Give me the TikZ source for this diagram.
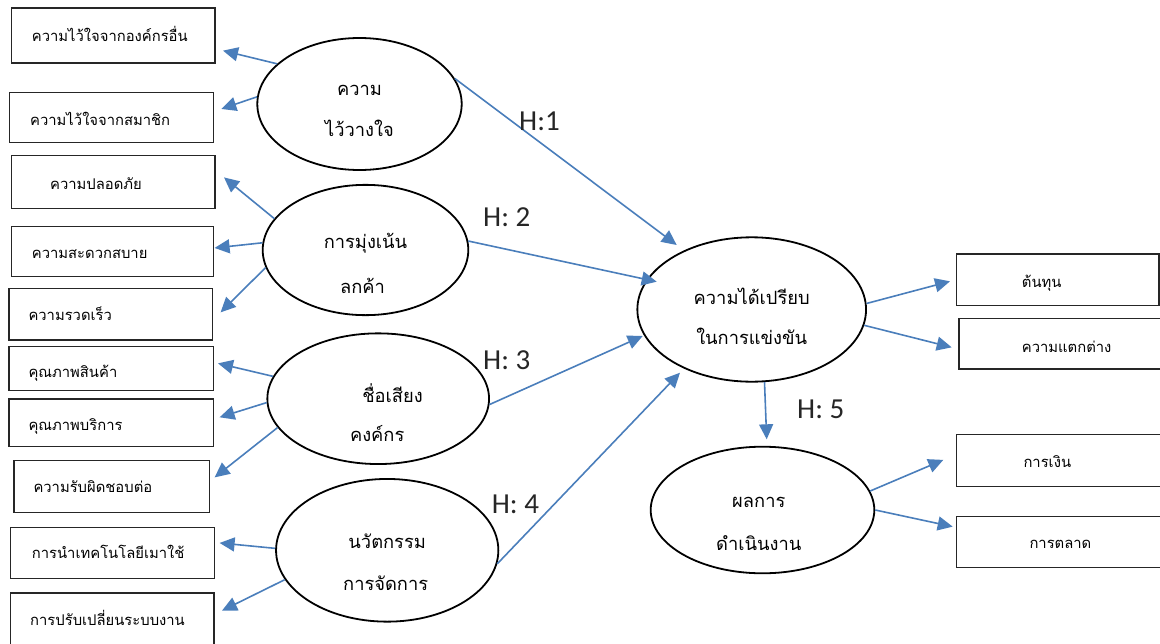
\documentclass[tikz,border=0pt]{standalone}
\usepackage{fontspec}
\newfontfamily\thaifont[Script=Thai]{Loma}
\newfontfamily\latinfont{Carlito}
\usetikzlibrary{shapes.geometric,arrows.meta,calc}
\definecolor{linkblue}{HTML}{4A7EBB}
\definecolor{boxedge}{HTML}{262626}
\begin{document}
\begin{tikzpicture}[x=1pt,y=-1pt,
  leftbox/.style={draw=boxedge, line width=1.3pt, anchor=north west, inner sep=0pt},
  boxtext/.style={font=\thaifont\fontsize{14.8}{17}\selectfont, anchor=base west, inner sep=0pt},
  ellipsenode/.style={ellipse, draw=black, line width=1.8pt, inner sep=0pt},
  elltext/.style={font=\thaifont\fontsize{18.3}{21}\selectfont, anchor=base, inner sep=0pt},
  link/.style={draw=linkblue, line width=1.6pt, -{Triangle[length=15pt,width=14pt]}},
  hlabel/.style={font=\latinfont\fontsize{29}{34}\selectfont, anchor=base west, inner sep=0pt, text=black!85}
]
\useasboundingbox (0,0) rectangle (1160,643);
\clip (0,0) rectangle (1160,643);

% indicator boxes, left column
\node[leftbox, minimum width=203.3pt, minimum height=55pt,
  label={[boxtext, xshift=20.7pt, yshift=-5.9pt]west:ความไว้ใจจากองค์กรอื่น}] (b1) at (11,7.3) {};
\node[leftbox, minimum width=203.7pt, minimum height=50pt,
  label={[boxtext, xshift=21pt, yshift=-8.3pt]west:ความไว้ใจจากสมาชิก}] (b2) at (9,91.7) {};
\node[leftbox, minimum width=203.3pt, minimum height=52.7pt,
  label={[boxtext, xshift=39pt, yshift=-7pt]west:ความปลอดภัย}] (b3) at (11,155) {};
\node[leftbox, minimum width=201.7pt, minimum height=50pt,
  label={[boxtext, xshift=20.7pt, yshift=-7.3pt]west:ความสะดวกสบาย}] (b4) at (11,226) {};
\node[leftbox, minimum width=203.7pt, minimum height=51.6pt,
  label={[boxtext, xshift=20pt, yshift=-6.5pt]west:ความรวดเร็ว}] (b5) at (8.3,287.7) {};
\node[leftbox, minimum width=204.4pt, minimum height=44pt,
  label={[boxtext, xshift=20pt, yshift=-8.7pt]west:คุณภาพสินค้า}] (b6) at (8.3,346) {};
\node[leftbox, minimum width=204.4pt, minimum height=47.7pt,
  label={[boxtext, xshift=20pt, yshift=-7.8pt]west:คุณภาพบริการ}] (b7) at (8.3,398.3) {};
\node[leftbox, minimum width=195.7pt, minimum height=51.7pt,
  label={[boxtext, xshift=20pt, yshift=-5.9pt]west:ความรับผิดชอบต่อ}] (b8) at (13.3,460) {};
\node[leftbox, minimum width=204pt, minimum height=51pt,
  label={[boxtext, xshift=21.7pt, yshift=-5.5pt]west:การนำเทคโนโลยีเมาใช้}] (b9) at (10,526.7) {};
\node[leftbox, minimum width=203.3pt, minimum height=60pt,
  label={[boxtext, xshift=20pt, yshift=-2.7pt]west:การปรับเปลี่ยนระบบงาน}] (b10) at (10,592.3) {};

% indicator boxes, right column
\node[leftbox, minimum width=202.3pt, minimum height=51.7pt,
  label={[boxtext, xshift=65.7pt, yshift=-7.5pt]west:ต้นทุน}] (r1) at (956,253.3) {};
\node[leftbox, minimum width=205pt, minimum height=50.6pt,
  label={[boxtext, xshift=63.4pt, yshift=-8.7pt]west:ความแตกต่าง}] (r2) at (958.3,317.7) {};
\node[leftbox, minimum width=206pt, minimum height=51.7pt,
  label={[boxtext, xshift=67.3pt, yshift=-6.8pt]west:การเงิน}] (r3) at (956,434) {};
\node[leftbox, minimum width=206pt, minimum height=51pt,
  label={[boxtext, xshift=73.3pt, yshift=-7.1pt]west:การตลาด}] (r4) at (956,515.7) {};

% latent variables
\node[ellipsenode, minimum width=204.4pt, minimum height=132pt,
  label={[elltext, yshift=14pt]center:ความ},
  label={[elltext, yshift=-24.3pt]center:ไว้วางใจ}] (e1) at (359.5,104) {};
\node[ellipsenode, minimum width=205.6pt, minimum height=130.3pt,
  label={[elltext, yshift=6.7pt]center:การมุ่งเน้น},
  label={[elltext, xshift=-3pt, yshift=-36pt]center:ลกค้า}] (e2) at (365.5,250) {};
\node[ellipsenode, minimum width=221.7pt, minimum height=130.7pt,
  label={[elltext, xshift=14.3pt, yshift=6pt]center:ชื่อเสียง},
  label={[elltext, xshift=-1pt, yshift=-34.6pt]center:คงค์กร}] (e3) at (378.2,398.7) {};
\node[ellipsenode, minimum width=222.3pt, minimum height=142.7pt,
  label={[elltext, yshift=9.3pt]center:นวัตกรรม},
  label={[elltext, xshift=-1.5pt, yshift=-33pt]center:การจัดการ}] (e4) at (387.2,550.3) {};
\node[ellipsenode, minimum width=228.7pt, minimum height=144.4pt,
  label={[elltext, yshift=12.8pt]center:ความได้เปรียบ},
  label={[elltext, yshift=-26.5pt]center:ในการแข่งขัน}] (e5) at (751.7,309.5) {};
\node[ellipsenode, minimum width=223.6pt, minimum height=126.6pt,
  label={[elltext, xshift=-3.7pt, yshift=7.3pt]center:ผลการ},
  label={[elltext, xshift=-3.7pt, yshift=-32.7pt]center:ดำเนินงาน}] (e6) at (762.5,510) {};

% measurement links
\draw[link] (e1.154.5) -- ($(b1.east)+(7.4,15.2)$);
\draw[link] (e1.176.8) -- ($(b2.east)+(7.3,-8.4)$);
\draw[link] (e2.161.5) -- ($(b3.east)+(8.4,-4.6)$);
\draw[link] (e2.176.9) -- ($(b4.east)+(0.6,-3.7)$);
\draw[link] (e2.190.2) -- ($(b5.east)+(7.3,-1.8)$);
\draw[link] (e3.168) -- ($(b6.east)+(4,-5.3)$);
\draw[link] (e3.182.1) -- ($(b7.east)+(5.6,-5.5)$);
\draw[link] (e3.196.3) -- ($(b8.east)+(4.3,-9.1)$);
\draw[link] (e4.179.8) -- ($(b9.east)+(4.3,-9.9)$);
\draw[link] (e4.196) -- ($(b10.east)+(7.4,-12.3)$);
\draw[link] (e5.3.9) -- ($(r1.west)+(-6,1.5)$);
\draw[link] (e5.352.3) -- ($(r2.west)+(-6.6,3.7)$);
\draw[link] (e6.10.2) -- ($(r3.west)+(-12.7,-0.6)$);
\draw[link] (e6.0.3) -- ($(r4.west)+(-3.3,-15.2)$);

% hypothesised paths
\draw[link] (e1.15.5) -- ($(e5.center)+(-75,-64.5)$);
\draw[link] (e2.5.5) -- ($(e5.center)+(-95,-27.8)$);
\draw[link] (e3.357.9) -- ($(e5.center)+(-109,26.5)$);
\draw[link] (e4.353.5) -- ($(e5.center)+(-71.7,63.2)$);
\draw[link] (e5.280.1) -- ($(e6.center)+(4.2,-70.7)$);

\node[hlabel] (h1) at (519,130) {H:1};
\node[hlabel] (h2) at (483,226) {H: 2};
\node[hlabel] (h3) at (483,369.5) {H: 3};
\node[hlabel] (h4) at (491.7,513.5) {H: 4};
\node[hlabel] (h5) at (797,418) {H: 5};
\end{tikzpicture}
\end{document}
